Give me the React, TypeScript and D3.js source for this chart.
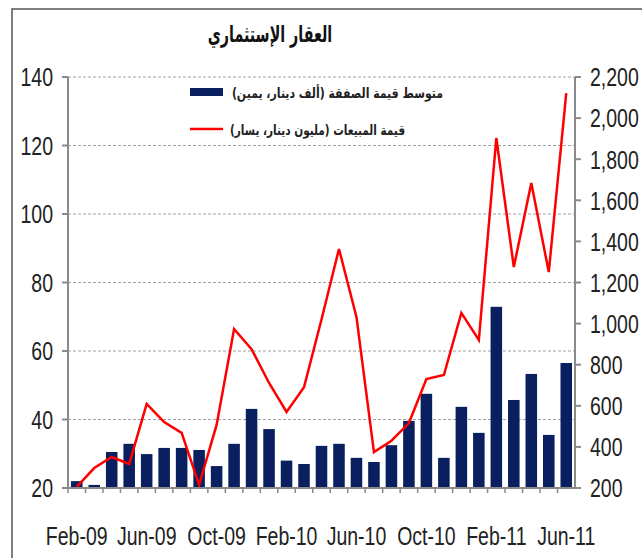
import React from 'react';
import * as d3 from 'd3';

const months = [
  'Feb-09', 'Mar-09', 'Apr-09', 'May-09', 'Jun-09', 'Jul-09', 'Aug-09', 'Sep-09',
  'Oct-09', 'Nov-09', 'Dec-09', 'Jan-10', 'Feb-10', 'Mar-10', 'Apr-10', 'May-10',
  'Jun-10', 'Jul-10', 'Aug-10', 'Sep-10', 'Oct-10', 'Nov-10', 'Dec-10', 'Jan-11',
  'Feb-11', 'Mar-11', 'Apr-11', 'May-11', 'Jun-11',
];
// bars, read against the left axis
const avgDeal = [
  22.0, 20.9, 30.5, 32.9, 29.9, 31.7, 31.7, 31.1, 26.4, 32.9, 43.1, 37.2, 28.0, 27.0,
  32.3, 32.9, 28.8, 27.6, 32.5, 39.6, 47.5, 28.8, 43.7, 36.1, 72.9, 45.7, 53.3, 35.5, 56.5,
];
// line, read against the right axis
const sales = [
  205, 297, 351, 317, 609, 521, 468, 215, 507, 974, 876, 711, 570, 691, 1020, 1363,
  1032, 375, 430, 516, 730, 750, 1052, 920, 1903, 1275, 1684, 1251, 2122,
];
const xLabels = ['Feb-09', 'Jun-09', 'Oct-09', 'Feb-10', 'Jun-10', 'Oct-10', 'Feb-11', 'Jun-11'];
const leftTicks = [20, 40, 60, 80, 100, 120, 140];
const rightTicks = [200, 400, 600, 800, 1000, 1200, 1400, 1600, 1800, 2000, 2200];

const title = 'العقار الإستثماري';
const barLabel = 'متوسط قيمة الصفقة (ألف دينار، يمين)';
const lineLabel = 'قيمة المبيعات (مليون دينار، يسار)';

const W = 642, H = 558;
const left = 68, right = 575, top = 77, bottom = 488;
const numFont = '"Liberation Sans", Arial, sans-serif';
const arFont = '"DejaVu Sans", sans-serif';
const axisColor = '#8a8a8a';
const narrow = 0.75;

// condensed text: liberation sans squeezed horizontally
const Num = ({ x, y, anchor, children }) => (
  <text transform={`translate(${x},${y}) scale(${narrow},1)`} dy="0.36em" textAnchor={anchor}
    fontFamily={numFont} fontSize={26} fill="#222">{children}</text>
);

export default function App() {
  const x = d3.scaleBand().domain(months).range([left, right]).paddingInner(0.34).paddingOuter(0.17);
  const yL = d3.scaleLinear().domain([20, 140]).range([bottom, top]);
  const yR = d3.scaleLinear().domain([200, 2200]).range([bottom, top]);
  const step = x.step();
  const cx = (m) => x(m) + x.bandwidth() / 2;

  const line = d3.line<number>()
    .x((d, i) => cx(months[i]))
    .y((d) => yR(d));

  const fmt = d3.format(',');

  return (
    <svg width={W} height={H} style={{ position: 'absolute', left: 0, top: 0, display: 'block', background: '#fff' }}>
      <path d={`M12,${H + 5}V9H${W + 5}`} fill="none" stroke="#555" strokeWidth={1.5} />

      <text transform="translate(270,42) scale(0.62,1)" textAnchor="middle" fontFamily={arFont} fontWeight="bold" fontSize={23} fill="#111">
        {title}
      </text>

      {leftTicks.slice(1).map((t) => (
        <line key={'g' + t} x1={left} x2={right} y1={yL(t)} y2={yL(t)} stroke="#a0a0a0" strokeWidth={1} strokeDasharray="3,2" />
      ))}

      {avgDeal.map((v, i) => (
        <rect key={'b' + i} x={x(months[i])} y={yL(v)} width={x.bandwidth()} height={yL(20) - yL(v)} fill="#0a1f5f" />
      ))}

      <path d={line(sales)} fill="none" stroke="#ff0000" strokeWidth={2.5} strokeLinejoin="miter" />

      {/* axes */}
      <line x1={left} x2={left} y1={top} y2={bottom} stroke={axisColor} strokeWidth={2} />
      <line x1={right} x2={right} y1={top} y2={bottom} stroke={axisColor} strokeWidth={2} />
      <line x1={left - 6} x2={right + 6} y1={bottom} y2={bottom} stroke={axisColor} strokeWidth={2} />

      {leftTicks.map((t) => (
        <g key={'l' + t}>
          <line x1={left - 6} x2={left} y1={yL(t)} y2={yL(t)} stroke={axisColor} strokeWidth={2} />
          <Num x={53} y={yL(t)} anchor="end">{t}</Num>
        </g>
      ))}
      {rightTicks.map((t) => (
        <g key={'r' + t}>
          <line x1={right} x2={right + 6} y1={yR(t)} y2={yR(t)} stroke={axisColor} strokeWidth={2} />
          <Num x={590} y={yR(t)} anchor="start">{fmt(t)}</Num>
        </g>
      ))}
      {months.map((m) => (
        <line key={'t' + m} x1={cx(m) - step / 2} x2={cx(m) - step / 2} y1={bottom} y2={bottom + 5} stroke={axisColor} strokeWidth={1.5} />
      ))}
      {xLabels.map((m) => (
        <Num key={'x' + m} x={cx(m)} y={536} anchor="middle">{m}</Num>
      ))}

      {/* legend */}
      <rect x={190} y={88} width={33} height={8} fill="#0a1f5f" />
      <text transform="translate(443,98) scale(0.78,1)" textAnchor="end" fontFamily={arFont} fontWeight="bold" fontSize={14} fill="#222">{barLabel}</text>
      <line x1={190} x2={223} y1={129} y2={129} stroke="#ff0000" strokeWidth={2.5} />
      <text transform="translate(405,135) scale(0.75,1)" textAnchor="end" fontFamily={arFont} fontWeight="bold" fontSize={14} fill="#222">{lineLabel}</text>
    </svg>
  );
}
